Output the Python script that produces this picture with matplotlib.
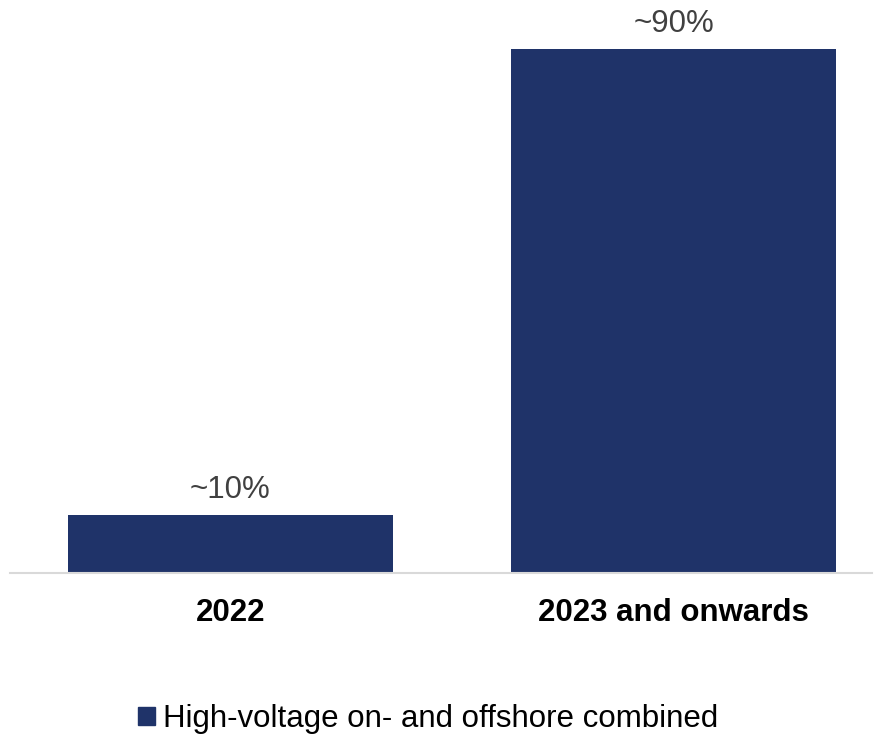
import matplotlib
matplotlib.use("Agg")
import matplotlib.pyplot as plt
from matplotlib.patches import Patch

categories = ["2022", "2023 and onwards"]
values = [10, 90]
labels = ["~10%", "~90%"]
series_name = "High-voltage on- and offshore combined"

bar_color = "#1F3369"
plt.rcParams["font.family"] = ["Liberation Sans", "DejaVu Sans"]

fig = plt.figure(figsize=(8.82, 7.36), dpi=100)
ax = fig.add_axes([10/882, 1 - 573/736, 862/882, 573/736])
x = range(len(categories))
bars = ax.bar(x, values, width=0.734, color=bar_color)
for b, lab in zip(bars, labels):
    ax.annotate(lab, (b.get_x() + b.get_width()/2, b.get_height()),
                xytext=(0, 7), textcoords="offset points",
                ha="center", va="bottom", fontsize=22.5, color="#404040")
ax.set_xlim(-0.4977, 1.448)
ax.set_ylim(0, 98.4)
ax.set_xticks(list(x))
ax.set_xticklabels(categories, fontsize=22.5, fontweight="bold", color="black")
ax.tick_params(axis="x", length=0, pad=18)
ax.set_yticks([])
for s in ["top", "right", "left"]:
    ax.spines[s].set_visible(False)
ax.spines["bottom"].set_color("#D9D9D9")
ax.spines["bottom"].set_linewidth(1.5)

handle = Patch(facecolor=bar_color, edgecolor=bar_color)
fig.legend([handle], [series_name], loc="center", bbox_to_anchor=(428/882, 1 - 719/736),
           frameon=False, fontsize=22.5, handlelength=0.55, handleheight=0.55,
           handletextpad=0.25)
fig.savefig("out.png", dpi=100)
